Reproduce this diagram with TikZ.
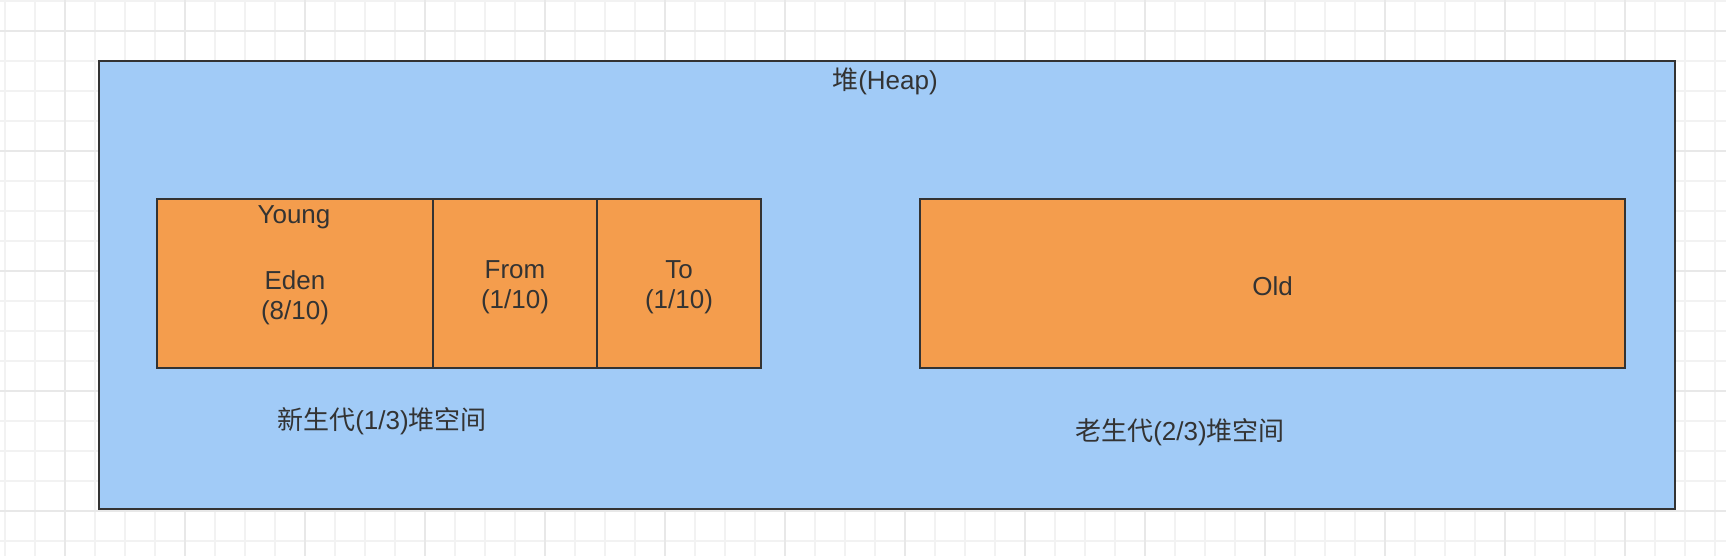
\documentclass[tikz,border=0pt]{standalone}
\usepackage{fontspec}
\setmainfont{Liberation Sans}
\newfontfamily\cjk{Noto Sans CJK SC}
\usepackage{xcolor}
\usepackage{tikz}
\usetikzlibrary{positioning}
\definecolor{heapblue}{RGB}{161,203,247}
\definecolor{genorange}{RGB}{244,157,77}
\definecolor{linegray}{RGB}{51,51,51}
\definecolor{minorgrid}{RGB}{242,242,242}
\definecolor{majorgrid}{RGB}{232,232,232}
\newcommand{\zh}[1]{{\cjk #1}}
\tikzset{
  box/.style={draw=linegray, line width=2pt, rectangle, inner sep=0pt},
  txt/.style={text=linegray, align=center, inner sep=0pt, font=\fontsize{26}{30}\selectfont}
}

\begin{document}
\begin{tikzpicture}[x=1pt, y=-1pt]
\useasboundingbox (0,0) rectangle (1726,556);
\fill[white] (0,0) rectangle (1726,556);
\foreach \gx in {5,35,...,1715} \draw[minorgrid, line width=1.5pt] (\gx,0) -- (\gx,556);
\foreach \gy in {1,31,...,541} \draw[minorgrid, line width=1.5pt] (0,\gy) -- (1726,\gy);
\foreach \gx in {65,185,...,1705} \draw[majorgrid, line width=2pt] (\gx,0) -- (\gx,556);
\foreach \gy in {31,151,...,511} \draw[majorgrid, line width=2pt] (0,\gy) -- (1726,\gy);

\node[box, fill=heapblue, minimum width=1576pt, minimum height=447pt] (heap) at (887,285) {};
\node[txt] (heaplbl) at (885,81) {\zh{堆}(Heap)};

\node[box, fill=genorange, minimum width=276pt, minimum height=169pt] (eden) at (295,283.5) {};
\node[box, fill=genorange, minimum width=164pt, minimum height=169pt] (from) at (515,283.5) {};
\node[box, fill=genorange, minimum width=164pt, minimum height=169pt] (to) at (679,283.5) {};
\node[box, fill=genorange, minimum width=705pt, minimum height=169pt] (old) at (1272.5,283.5) {};

\node[txt] (younglbl) at (294,217) {Young};
\node[txt] (edenlbl) at (295,298) {Eden\\(8/10)};
\node[txt] (fromlbl) at (515,287) {From\\(1/10)};
\node[txt] (tolbl) at (679,287) {To\\(1/10)};
\node[txt] (oldlbl) at (1272.5,286) {Old};

\node[txt] (younggen) at (382,421) {\zh{新生代}(1/3)\zh{堆空间}};
\node[txt] (oldgen) at (1180,432) {\zh{老生代}(2/3)\zh{堆空间}};

\end{tikzpicture}
\end{document}
